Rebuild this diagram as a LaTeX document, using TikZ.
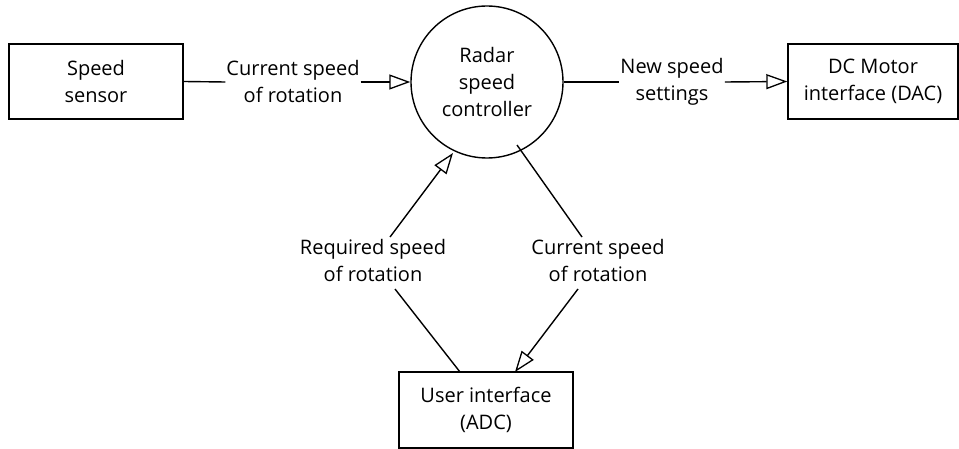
\documentclass[tikz,border=0pt]{standalone}
\usepackage{fontspec}
\setmainfont{Open Sans}
\usetikzlibrary{arrows.meta}
\begin{document}
\begin{tikzpicture}[x=1pt,y=-1pt,
  every node/.style={font=\fontsize{20}{27}\selectfont, align=center},
  box/.style={draw, line width=1.4pt, inner sep=0pt},
  flow/.style={line width=1.4pt, -{Triangle[open, length=21pt, width=15pt, line width=1.3pt]}},
  plain/.style={line width=1.4pt},
  lbl/.style={inner sep=1pt}]
\useasboundingbox (0,0) rectangle (959,449);
\node[box, minimum width=174pt, minimum height=75pt] (ss) at (96,81.5) {Speed\\sensor};
\node[draw, circle, line width=1.4pt, minimum size=152pt, inner sep=0pt] (rc) at (487,82) {Radar\\speed\\controller};
\node[box, minimum width=170pt, minimum height=75pt] (dc) at (873,81.5) {DC Motor\\interface (DAC)};
\node[box, minimum width=174pt, minimum height=76pt] (ui) at (486,410) {User interface\\(ADC)};
\node[lbl] (l1) at (293,82) {Current speed\\of rotation};
\node[lbl] (l2) at (672,82) {New speed\\settings};
\node[lbl] (l3) at (373,261) {Required speed\\of rotation};
\node[lbl] (l4) at (598,261) {Current speed\\of rotation};
% top left flow
\draw[plain] (ss.east) -- (l1.west);
\draw[flow] (l1.east) -- (rc.west);
% top right flow
\draw[plain] (rc.east) -- (l2.west);
\draw[flow] (l2.east) -- (dc.west);
% bottom left flow
\coordinate (uiL) at (460,372);
\coordinate (rcL) at (453,153);
\coordinate (a1) at (395,289);
\coordinate (a2) at (390,237);
\draw[plain] (uiL) -- (a1);
\draw[flow] (a2) -- (rcL);
% bottom right flow
\coordinate (rcR) at (517,145);
\coordinate (uiR) at (515,372);
\coordinate (b1) at (582,237);
\coordinate (b2) at (578,289);
\draw[plain] (rcR) -- (b1);
\draw[flow] (b2) -- (uiR);
\end{tikzpicture}
\end{document}
